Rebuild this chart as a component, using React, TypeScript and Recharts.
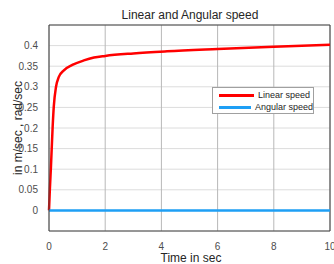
import React from "react";
import { LineChart, Line, XAxis, YAxis, CartesianGrid, ReferenceLine } from "recharts";

const times = [0, 0.03, 0.07, 0.13, 0.17, 0.25, 0.35, 0.53, 0.83, 1.24, 1.6, 2, 3, 4.2, 6, 8, 10];
const linearSpeed = [0, 0.05, 0.107, 0.203, 0.252, 0.3, 0.324, 0.34, 0.353, 0.364, 0.371, 0.375, 0.381, 0.386, 0.3915, 0.397, 0.402];
const angularSpeed = [0, 0, 0, 0, 0, 0, 0, 0, 0, 0, 0, 0, 0, 0, 0, 0, 0];

const xTicks = [0, 2, 4, 6, 8, 10];
const yTicks = [0, 0.05, 0.1, 0.15, 0.2, 0.25, 0.3, 0.35, 0.4];

const data = times.map((t, i) => ({ t, linear: linearSpeed[i], angular: angularSpeed[i] }));

const font = "'Liberation Sans', Arial, sans-serif";

function LegendBox() {
  const items = [
    { label: "Linear speed", color: "#ff0000" },
    { label: "Angular speed", color: "#1e9ff5" },
  ];
  return (
    <div
      style={{
        position: "absolute",
        left: 212,
        top: 87,
        width: 102,
        height: 27,
        boxSizing: "border-box",
        border: "1px solid #a0a0a0",
        background: "#fff",
        paddingTop: 1,
        fontFamily: font,
        fontSize: 9,
        color: "#262626",
        whiteSpace: "nowrap",
      }}
    >
      {items.map((it) => (
        <div key={it.label} style={{ display: "flex", alignItems: "center", height: 12 }}>
          <div style={{ width: 35, height: 3, background: it.color, marginLeft: 6, marginRight: 4 }} />
          <span>{it.label}</span>
        </div>
      ))}
    </div>
  );
}

export default function App() {
  return (
    <div style={{ position: "absolute", left: 0, top: 0, width: 334, height: 264, background: "#fff", overflow: "hidden" }}>
      <LineChart width={334} height={264} data={data} margin={{ top: 25, right: 4, bottom: 0, left: 0 }}>
        <text x={190} y={19} textAnchor="middle" fontFamily={font} fontSize={12} fill="#262626">
          Linear and Angular speed
        </text>
        <text x={191} y={262} textAnchor="middle" fontFamily={font} fontSize={12} fill="#262626">
          Time in sec
        </text>
        <text x={22} y={128} transform="rotate(-90, 22, 128)" textAnchor="middle" fontFamily={font} fontSize={12} fill="#262626">
          in m/sec , rad/sec
        </text>
        <CartesianGrid horizontal={true} vertical={false} stroke="#dcdcdc" />
        <CartesianGrid horizontal={false} vertical={true} stroke="#b8b8b8" />
        <XAxis
          dataKey="t"
          type="number"
          domain={[0, 10]}
          ticks={xTicks}
          interval={0}
          height={33}
          stroke="#404040"
          tickLine={false}
          tick={{ fontSize: 10, fill: "#4d4d4d", fontFamily: font }}
          tickMargin={6}
        />
        <YAxis
          type="number"
          domain={[-0.05, 0.45]}
          ticks={yTicks}
          interval={0}
          width={49}
          stroke="#404040"
          tickLine={false}
          tick={{ fontSize: 10, fill: "#4d4d4d", fontFamily: font }}
          tickMargin={5}
          allowDataOverflow
        />
        <ReferenceLine y={0.45} stroke="#404040" />
        <ReferenceLine x={10} stroke="#404040" />
        <Line type="monotone" dataKey="linear" stroke="#ff0000" strokeWidth={2.5} dot={false} isAnimationActive={false} />
        <Line type="linear" dataKey="angular" stroke="#1e9ff5" strokeWidth={2.5} dot={false} isAnimationActive={false} />
      </LineChart>
      <LegendBox />
    </div>
  );
}
